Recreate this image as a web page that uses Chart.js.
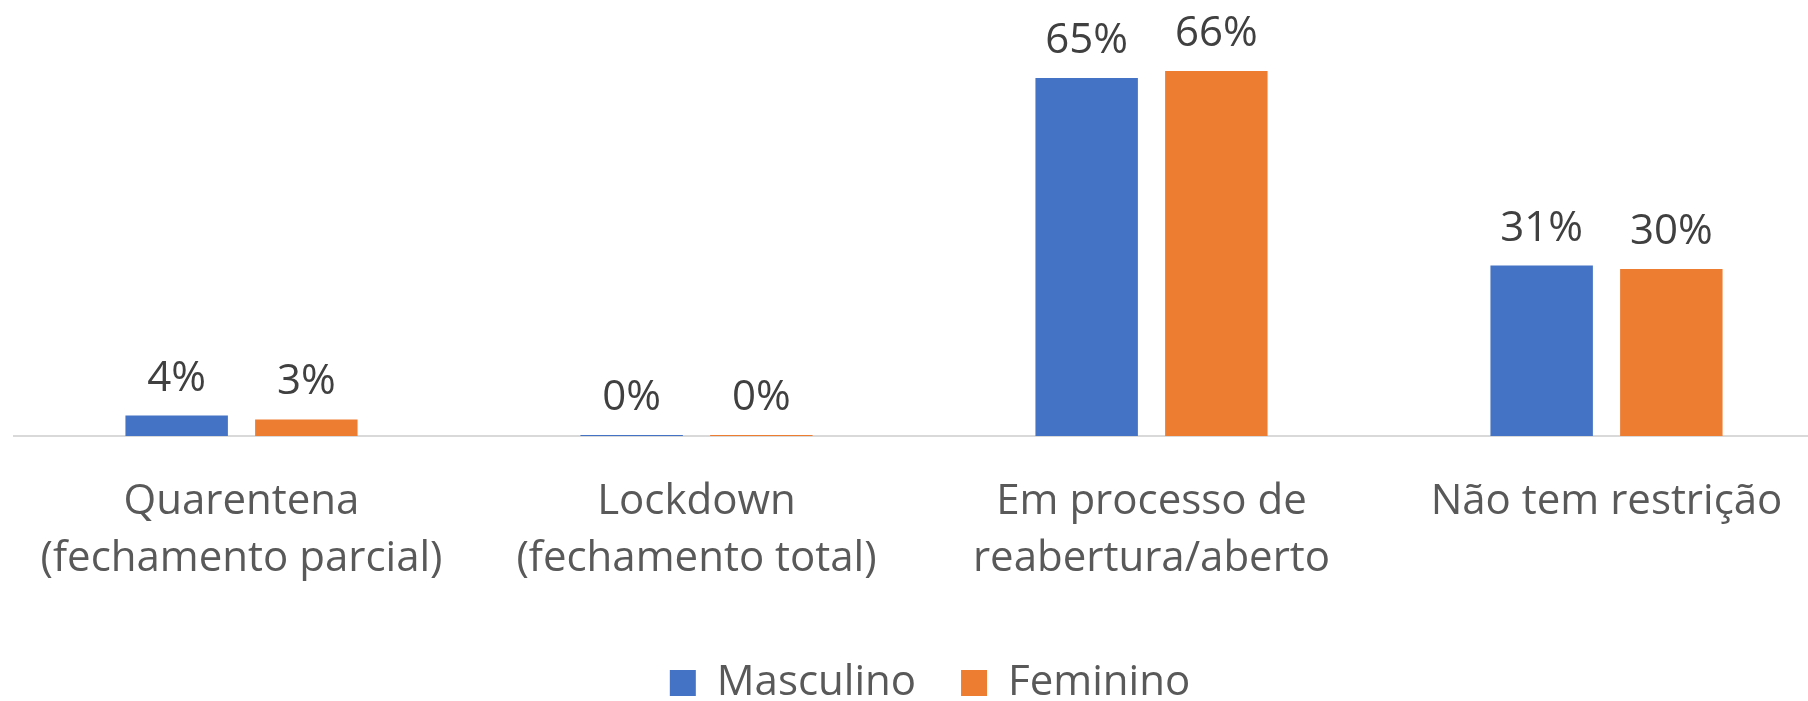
<!DOCTYPE html>
<html>
<head>
<meta charset="utf-8">
<script src="https://cdn.jsdelivr.net/npm/chart.js@4.4.0/dist/chart.umd.min.js"></script>
<style>
  html, body { margin: 0; padding: 0; background: #fff; overflow: hidden; width: 1808px; height: 701px; }
  canvas { display: block; }
</style>
</head>
<body>
<!-- the plot area runs past the right edge in the original, so the canvas is a bit wider than the page -->
<canvas id="myChart" width="1834" height="701"></canvas>
<script>
// categories (multi-line labels as arrays)
const categories = [
  ["Quarentena", "(fechamento parcial)"],
  ["Lockdown", "(fechamento total)"],
  ["Em processo de", "reabertura/aberto"],
  "Não tem restrição",
];
const seriesNames = ["Masculino", "Feminino"];
// percent values
const masculino = [3.7, 0.2, 64.9, 30.9];
const feminino = [3.0, 0.2, 66.2, 30.3];

const FONT = "'Open Sans', 'Noto Sans', sans-serif";

// value labels above every bar
const barLabels = {
  id: "barLabels",
  afterDatasetsDraw(chart) {
    const ctx = chart.ctx;
    ctx.save();
    ctx.font = "42px " + FONT;
    ctx.fillStyle = "#404040";
    ctx.textAlign = "center";
    ctx.textBaseline = "alphabetic";
    chart.data.datasets.forEach((ds, i) => {
      chart.getDatasetMeta(i).data.forEach((bar, j) => {
        ctx.fillText(Math.round(ds.data[j]) + "%", bar.x, bar.y - 25);
      });
    });
    ctx.restore();
  },
};

// nudge the legend a little to the right, like the original
const legendShift = {
  id: "legendShift",
  afterLayout(chart) {
    chart.legend.left += 6;
    chart.legend.right += 6;
  },
};

const ctx = document.getElementById("myChart");

const myChart = new Chart(ctx, {
  type: "bar",
  data: {
    labels: categories,
    datasets: [
      {
        label: seriesNames[0],
        data: masculino,
        backgroundColor: "#4472C4",
      },
      {
        label: seriesNames[1],
        data: feminino,
        backgroundColor: "#ED7D31",
      },
    ],
  },
  options: {
    responsive: false,
    animation: false,
    categoryPercentage: 0.57,
    barPercentage: 0.79,
    layout: {
      padding: { left: 14, right: 0, top: 50, bottom: -13 },
    },
    scales: {
      x: {
        grid: { display: false, drawTicks: false },
        border: { display: true, color: "#d9d9d9", width: 2 },
        ticks: {
          padding: 38,
          color: "#595959",
          font: { family: FONT, size: 42, lineHeight: "57px" },
          maxRotation: 0,
          autoSkip: false,
        },
        afterFit(scale) {
          scale.height = 181;
        },
      },
      y: {
        display: false,
        min: 0,
        max: 70,
      },
    },
    plugins: {
      legend: {
        position: "bottom",
        labels: {
          boxWidth: 26,
          boxHeight: 26,
          padding: 45,
          color: "#595959",
          font: { family: FONT, size: 42 },
        },
      },
      tooltip: { enabled: false },
    },
  },
  plugins: [barLabels, legendShift],
});
</script>
</body>
</html>
